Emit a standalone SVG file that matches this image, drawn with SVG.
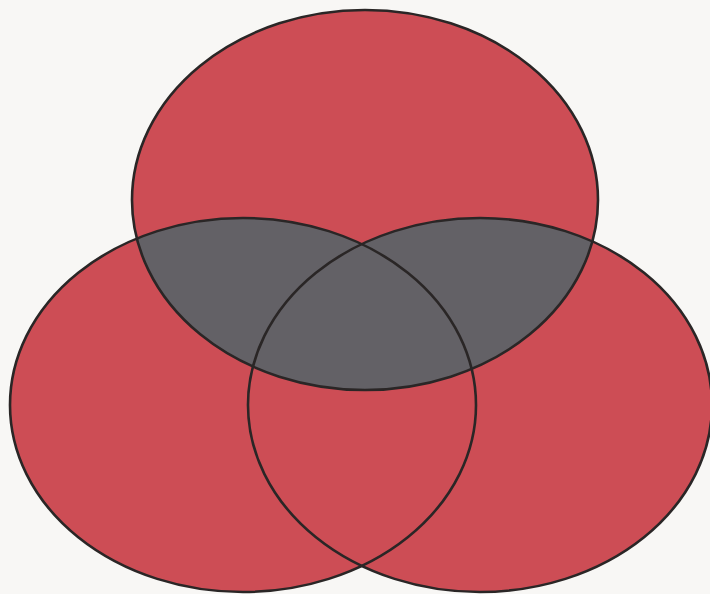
<svg xmlns="http://www.w3.org/2000/svg" width="710" height="594" viewBox="0 0 710 594">
<style>
.fill{fill:#cd4d55}
.over{fill:#636166}
.edge{fill:none;stroke:#2a2626;stroke-width:2.6}
</style>
<defs>
<clipPath id="topClip"><ellipse cx="365" cy="200" rx="233" ry="190"/></clipPath>
</defs>
<rect width="710" height="594" fill="#f8f7f5"/>
<g id="set-top"><ellipse class="fill" cx="365" cy="200" rx="233" ry="190"/></g>
<g id="set-left"><ellipse class="fill" cx="243" cy="405" rx="233" ry="187"/></g>
<g id="set-right"><ellipse class="fill" cx="480" cy="405" rx="232" ry="187"/></g>
<g id="overlap" clip-path="url(#topClip)">
<ellipse class="over" cx="243" cy="405" rx="233" ry="187"/>
<ellipse class="over" cx="480" cy="405" rx="232" ry="187"/>
</g>
<g id="outlines">
<ellipse class="edge" cx="365" cy="200" rx="233" ry="190"/>
<ellipse class="edge" cx="243" cy="405" rx="233" ry="187"/>
<ellipse class="edge" cx="480" cy="405" rx="232" ry="187"/>
</g>
</svg>
